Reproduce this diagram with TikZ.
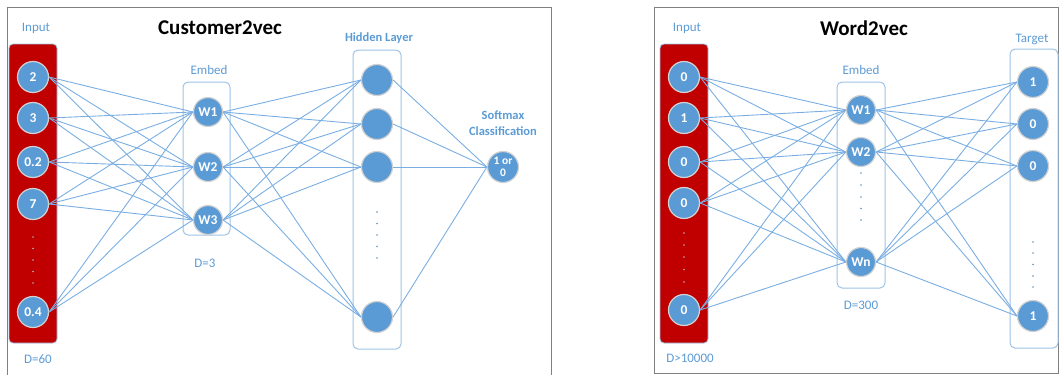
\documentclass[tikz,border=0pt]{standalone}
\usepackage{fontspec}
\setmainfont{Carlito}
\definecolor{nodeblue}{RGB}{91,155,213}
\definecolor{edgeblue}{RGB}{122,174,226}
\definecolor{boxblue}{RGB}{157,195,230}
\definecolor{inred}{RGB}{192,0,0}
\tikzset{
  neuron/.style={circle, fill=nodeblue, draw=gray!35, line width=1.2pt,
    minimum size=31pt, inner sep=0pt, text=white,
    font=\bfseries\fontsize{13.5}{14}\selectfont},
  link/.style={edgeblue, line width=0.9pt},
  layerbox/.style={draw=boxblue, line width=1pt, rounded corners=5pt},
  inbox/.style={fill=inred, draw=boxblue, line width=0.8pt, rounded corners=4pt},
  lbl/.style={text=nodeblue, font=\fontsize{13}{15}\selectfont},
  boldlbl/.style={text=nodeblue, align=center, font=\bfseries\fontsize{12.5}{16}\selectfont},
  ttl/.style={font=\bfseries\fontsize{21}{24}\selectfont},
  frame/.style={draw=gray, line width=1pt},
}
\begin{document}
\begin{tikzpicture}[x=1pt, y=-1pt]
  \useasboundingbox (0,0) rectangle (1061,375);
  % frames
  \draw[frame] (7,376)--(7,7)--(551,7)--(551,376);
  \draw[frame] (654,7) rectangle (1058,373);

  % Customer2vec
  \node[ttl] (title1) at (220,28) {Customer2vec};
  \node[lbl] (lin1) at (36,28) {Input};
  \node[lbl] (lem1) at (209,70) {Embed};
  \node[boldlbl] (lhid) at (379,38) {Hidden Layer};
  \node[boldlbl] (lsoft) at (503,123) {Softmax\\Classification};
  \node[lbl] (ld1) at (38,359) {D=60};
  \node[lbl] (ld2) at (205,263) {D=3};

  \draw[inbox] (9,44) rectangle (57,343);
  \draw[layerbox] (183,82) rectangle (230,235);
  \draw[layerbox] (353,50) rectangle (401,349);

  \node[neuron] (in1) at (33,77) {2};
  \node[neuron] (in2) at (33,118) {3};
  \node[neuron] (in3) at (33,162) {0.2};
  \node[neuron] (in4) at (33,204) {7};
  \node[neuron] (in5) at (33,312) {0.4};
  \foreach \y in {237,248.5,260,271.5,283}
    \fill[gray!60] (33,\y) circle (0.8);

  \node[neuron, minimum size=29pt] (em1) at (208,112) {W1};
  \node[neuron, minimum size=29pt] (em2) at (208,167) {W2};
  \node[neuron, minimum size=29pt] (em3) at (208,220) {W3};

  \node[neuron] (hid1) at (377,80) {};
  \node[neuron] (hid2) at (377,124) {};
  \node[neuron] (hid3) at (377,167) {};
  \node[neuron] (hid4) at (377,317) {};
  \foreach \y in {212,223.5,235,246.5,258}
    \fill[nodeblue!70!gray] (377,\y) circle (0.8);

  \node[neuron, align=center, font=\bfseries\fontsize{11.5}{12}\selectfont] (soft) at (503,167) {1 or\\0};

  \foreach \i in {1,...,5}
    \foreach \j in {1,2,3}
      \draw[link] (in\i.east) -- (em\j.west);
  \foreach \i in {1,2,3}
    \foreach \j in {1,...,4}
      \draw[link] (em\i.east) -- (hid\j.west);
  \foreach \j in {1,...,4}
    \draw[link] (hid\j.east) -- (soft.west);

  % Word2vec
  \node[ttl] (title2) at (864,28) {Word2vec};
  \node[lbl] (win) at (687,28) {Input};
  \node[lbl] (wem) at (861,70) {Embed};
  \node[lbl] (wtgt) at (1032,39) {Target};
  \node[lbl] (wd1) at (690,358) {D>10000};
  \node[lbl] (wd2) at (861,305) {D=300};

  \draw[inbox] (660,44) rectangle (708,343);
  \draw[layerbox] (837,82) rectangle (885,288);
  \draw[layerbox] (1010,49) rectangle (1058,348);

  \node[neuron] (x1) at (684,77) {0};
  \node[neuron] (x2) at (684,118) {1};
  \node[neuron] (x3) at (684,162) {0};
  \node[neuron] (x4) at (684,203) {0};
  \node[neuron] (x5) at (684,310) {0};
  \foreach \y in {233,245,257,269.5,282}
    \fill[gray!60] (684,\y) circle (0.8);

  \node[neuron, minimum size=29pt] (w1) at (861,110) {W1};
  \node[neuron, minimum size=29pt] (w2) at (861,152) {W2};
  \node[neuron, minimum size=29pt] (w3) at (861,262) {Wn};
  \foreach \y in {173,185,197,208.5,220}
    \fill[nodeblue!70!gray] (861,\y) circle (0.8);

  \node[neuron] (t1) at (1033,82) {1};
  \node[neuron] (t2) at (1033,124) {0};
  \node[neuron] (t3) at (1033,166) {0};
  \node[neuron] (t4) at (1033,316) {1};
  \foreach \y in {242,253,264.5,276,287}
    \fill[nodeblue!70!gray] (1033,\y) circle (0.8);

  \foreach \i in {1,...,5}
    \foreach \j in {1,2,3}
      \draw[link] (x\i.east) -- (w\j.west);
  \foreach \i in {1,2,3}
    \foreach \j in {1,...,4}
      \draw[link] (w\i.east) -- (t\j.west);
\end{tikzpicture}
\end{document}
